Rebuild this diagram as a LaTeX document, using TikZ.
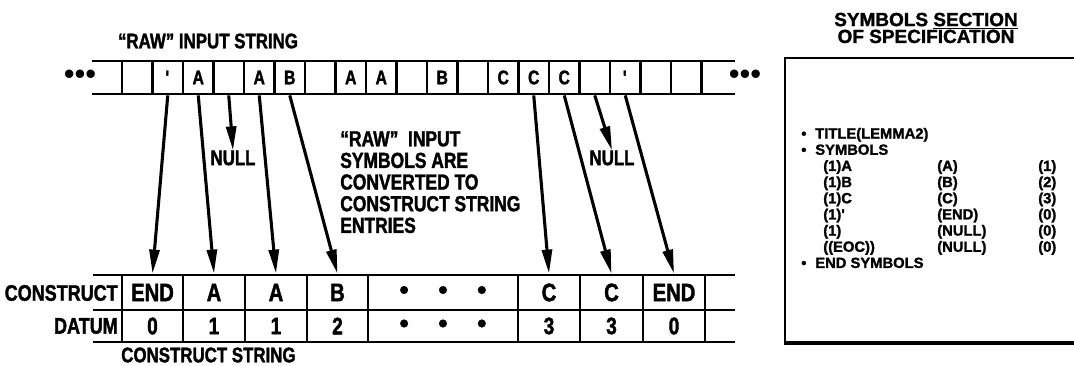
\documentclass[tikz,border=0pt]{standalone}
\usepackage{fontspec}
\setmainfont{Liberation Sans}[FakeStretch=0.8, BoldFeatures={FakeBold=1.6}]
\newfontfamily\specfont{Liberation Sans}[BoldFeatures={FakeBold=1.4}]
\usepackage{tikz}
\usetikzlibrary{positioning, arrows.meta}
\newcommand{\dotrow}{{\specfont\fontsize{19}{19}\selectfont\textbullet\hspace{21pt}\textbullet\hspace{21pt}\textbullet}}

\begin{document}
\begin{tikzpicture}[x=0.25mm, y=-0.25mm,
    cell/.style={draw, line width=2pt, minimum width=7.625mm, minimum height=8.25mm, inner sep=0pt, font=\fontsize{14}{14}\selectfont\bfseries},
    tabcell/.style={draw, line width=2pt, inner sep=0pt, font=\fontsize{18}{18}\selectfont\bfseries},
    lbl/.style={inner sep=0pt, font=\fontsize{15}{15}\selectfont\bfseries},
    feed/.style={line width=2.2pt, -{Triangle[length=6mm, width=2.5mm]}},
    rule/.style={line width=2pt}
]
\useasboundingbox (0,0) rectangle (1074,366);

% raw input string
\node[lbl] (rawlbl) at (208,41) {``RAW'' INPUT STRING};
\draw[rule] (92,61) -- (735,61) (92,94) -- (735,94);
\foreach \s [count=\i from 0] in {{},{\textquotesingle},A,{},A,B,{},A,A,{},B,{},C,C,C,{},{\textquotesingle},{},{}}
    \node[cell] (in\i) at (137.25+30.5*\i, 77.5) {\s};
\node[inner sep=0pt, font=\specfont\fontsize{22}{22}\selectfont] (ldots) at (80,77) {\textbullet\textbullet\textbullet};
\node[inner sep=0pt, font=\specfont\fontsize{22}{22}\selectfont] (rdots) at (745,77) {\textbullet\textbullet\textbullet};

% construct string
\draw[rule] (93,275) -- (735,275) (93,310) -- (735,310) (93,342) -- (735,342);
\foreach \xa/\xb/\sym/\val [count=\i] in {122/183/END/0, 183/245/A/1, 245/307/A/1, 307/368/B/2,
        368/518/{\dotrow}/{\dotrow}, 518/580/C/3, 580/643/C/3, 643/705/END/0} {
    \node[tabcell, minimum width=(\xb-\xa)*0.25mm, minimum height=8.75mm] (con\i) at ({(\xa+\xb)/2}, 292.5) {\sym};
    \node[tabcell, minimum width=(\xb-\xa)*0.25mm, minimum height=8mm, font=\fontsize{17}{17}\selectfont\bfseries] (dat\i) at ({(\xa+\xb)/2}, 326) {\val};
}
\node[lbl, anchor=east, font=\fontsize{16}{16}\selectfont\bfseries] (conlbl) at (118,293) {CONSTRUCT};
\node[lbl, anchor=east, font=\fontsize{16}{16}\selectfont\bfseries] (datlbl) at (118,326) {DATUM};
\node[lbl, anchor=west] (strlbl) at (121,355) {CONSTRUCT STRING};

% conversions
\node[lbl] (null1) at (233,158) {NULL};
\node[lbl] (null2) at (612,158) {NULL};
\node[lbl, anchor=north west, align=left, font=\fontsize{15.5}{15.4}\selectfont\bfseries] (note) at (340,131)
    {``RAW''\ \ INPUT\\SYMBOLS ARE\\CONVERTED TO\\CONSTRUCT STRING\\ENTRIES};

\draw[feed] (in1.south) -- (con1.north);
\draw[feed] (in2.south) -- (con2.north);
\draw[feed] (in3.south) -- (null1.north);
\draw[feed] (in4.south) -- (con3.north);
\draw[feed] (in5.south) -- (con4.north);
\draw[feed] (in13.south) -- (con6.north);
\draw[feed] (in14.south) -- (con7.north);
\draw[feed] (in15.south) -- (null2.north);
\draw[feed] (in16.south) -- (con8.north);

% symbols section
\node[inner sep=0pt, align=center, font=\specfont\fontsize{13.5}{12}\selectfont\bfseries] (spectitle) at (926,28)
    {SYMBOLS \underline{SECTION}\\OF SPECIFICATION};
\draw[line width=2pt] (1074,58) -- (785,58) -- (785,343);
\draw[line width=3pt] (784,343) -- (1074,343);
\node[anchor=north west, inner sep=0pt, font=\specfont\fontsize{10.5}{11.5}\selectfont\bfseries] (spec) at (801,127) {%
    \begin{tabular}{@{}p{3.5mm}@{}p{30.5mm}@{}p{25.25mm}@{}l@{}}
    \textbullet & \multicolumn{3}{@{}l}{TITLE(LEMMA2)}\\
    \textbullet & \multicolumn{3}{@{}l}{SYMBOLS}\\
    & \hspace{2mm}(1)A & (A) & (1)\\
    & \hspace{2mm}(1)B & (B) & (2)\\
    & \hspace{2mm}(1)C & (C) & (3)\\
    & \hspace{2mm}(1)\textquotesingle & (END) & (0)\\
    & \hspace{2mm}(1) & (NULL) & (0)\\
    & \hspace{2mm}((EOC)) & (NULL) & (0)\\
    \textbullet & \multicolumn{3}{@{}l}{END SYMBOLS}
    \end{tabular}};
\end{tikzpicture}
\end{document}
